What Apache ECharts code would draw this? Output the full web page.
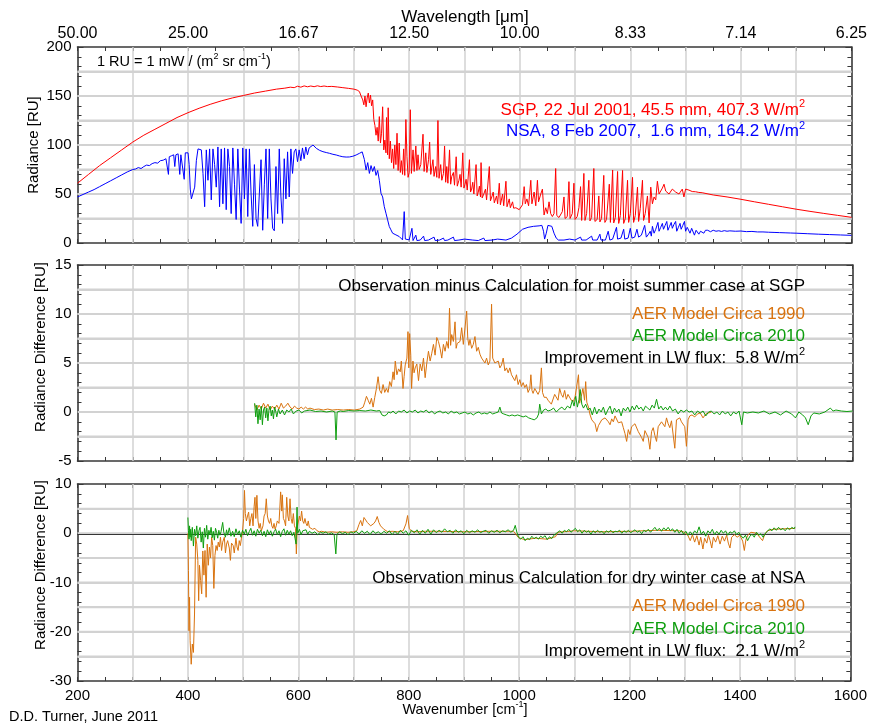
<!DOCTYPE html>
<html><head><meta charset="utf-8">
<script src="https://cdn.jsdelivr.net/npm/echarts/dist/echarts.min.js"></script>
<style>html,body{margin:0;padding:0;background:#fff}#chart{width:870px;height:724px}</style>
</head><body><div id="chart"></div>
<script>
// ---------------- DATA ----------------
// wavenumber [cm-1], radiance [RU]
const sgpRadiance = [[200,61],[220,70],[240,79],[260,87],[280,95],[300,103],[320,110],[340,116],[360,122],[380,128],[400,133],[420,137.5],[440,141.5],[460,145],[480,148],[500,150.5],[520,153],[540,155],[560,157],[575,158],[585,159],[592,158.5],[598,160],[604,159],[610,160.3],[616,159.4],[622,160.2],[628,159.5],[634,160.4],[640,159.6],[646,160.2],[652,159.6],[660,159.8],[670,159.2],[680,158.5],[690,157.8],[700,157],[706,156],[710,154.5],
[713,150],[716,146],[718,141],[720,150],[722,139],[724,148],[726,153],[728,143],[730,151],[732,140],[734,146],[736,126],[738,120],[740,110],[742,118],[744,104],[746,129],[748,102],[750,112],[752,139],[754,95],[756,105],[758,92],[759,128],[761,90],[762,138],[764,86],[766,104],[768,82],[770,96],[772,76],[774,100],[776,80],[778,112],[780,74],[782,102],[784,72],[786,84],[788,70],[790,96],[792,69],[794,126],[796,88],[798,67],
[800,72],[802,136],[804,71],[807,95],[809,73],[812,99],[814,74],[816,90],[818,75],[821,80],[825,111],[827,73],[830,92],[832,72],[835,85],[837,103],[839,70],[843,85],[845,68],[848,78],[850,67],[852,125],[854,66],[857,80],[859,64],[862,71],[864,99],[866,62],[868,78],[870,61],[873,95],[875,60],[877,68],[880,72],[882,59],[885,88],[887,58],[890,64],[892,70],[894,57],[897,92],[899,56],[901,60],[903,65],[905,54],[909,85],[911,52],[913,55],[915,62],[917,50],[921,80],[923,48],[925,52],[927,58],[929,47],[930,82],[932,46],[935,50],[938,55],[940,44],[945,78],[947,43],[950,48],[952,52],[954,41],[958,48],[960,40],[963,61],[965,39],[969,50],[971,38],[975,63],[977,37],[981,45],[983,36],[987,42],[989,35.5],[993,36],[996,34.5],[999,34],
[1002,36],[1005,39],[1008,57.5],[1010,40],[1013,45],[1016,38],[1020,64],[1022,40],[1026,52],[1029,38],[1032,64],[1034,42],[1038,50],[1041,55],[1044,28.6],[1047,36],[1050,30],[1053,42],[1056,30],[1059,27],[1062,30],[1065,76],[1067,28],[1071,26],[1074,27],[1077,32],[1080,47],[1082,25],[1086,27],[1089,62.6],[1091,25],[1095,30],[1098,61],[1100,24],[1104,27],[1107,36],[1110,57.5],[1112,23],[1116,71],[1118,23],[1121,30],[1125,64],[1127,22.5],[1130,26],[1134,76],[1136,22],[1140,24],[1143,48],[1145,21.5],[1148,25],[1152,69],[1154,21],[1157,24],[1162,60],[1164,21],[1168,74.5],[1170,20.5],[1173,26],[1177,73],[1179,20],[1182,28],[1186,74],[1188,20],[1191,25],[1195,64],[1197,21],[1200,30],[1204,67],[1206,21],[1209,28],[1213,57],[1215,22],[1218,35],[1222,64],[1224,23],[1227,30],[1231,48],[1234,20.5],[1237,57],[1240,40],[1243,47],[1246,44],[1249,63],[1252,50],[1255,52],[1258,56],[1261,60],[1264,53],[1267,55],[1270,50],[1273,48],[1276,55],[1279,56],[1282,52],[1285,54],[1288,50],[1291,51],[1294,55],[1297,47],[1300,55],[1306,54],[1312,52.5],[1318,52.3],[1324,51.6],[1330,51.3],[1350,49],[1375,47],[1400,44.6],[1425,42],[1450,39.5],[1475,37],[1500,34.5],[1525,32.3],[1550,30.2],[1575,28.2],[1600,26.2]];

const nsaRadiance = [[200,47],[210,49.5],[220,52],[230,54.5],[240,57.5],[250,60.5],[260,63.5],[270,66.5],[280,69.5],[290,72.5],[300,75],[305,75.5],[310,77],[315,76],[320,78],[325,79.5],[330,79],[335,81],[340,82],[345,81.5],[350,84],[355,84.5],[360,86],[363,87],[364.5,70],[366,88],[370,89],[374,90],[376,78],[378,90],[382,91],[385,70],[387,90],[390,92],[393,65],[395,92],[397,93],[400,92],[402,80],[404,55],[406,45],[409,43],[412,57],[415,84],[418,96],[421,97],[424,95],[427,71],[430,37],[433,95],[436,64],[439,96],[442,44],[445,96],[448,80],[451,57],[454,98],[457,37],[460,96],[463,40],[466,97],[469,34],[472,96],[475,78],[478,30],[481,97],[484,60],[487,24],[490,96],[493,55],[496,20],[499,97],[502,45],[505,96],[508,27],[511,96],[514,50],[517,17],[520,80],[523,25],[526,17],[529,17],[532,85],[535,13],[538,60],[541,96],[544,25],[547,96],[550,45],[553,15],[556,12.5],[559,78],[562,30],[565,96],[568,47],[571,20],[574,86],[577,45],[580,93],[583,47],[586,96],[589,71],[592,93],[595,96],[598,83],[601,95],[604,84],[607,97],[610,86],[613,98],[616,90],[619,97],[622,95],[626,100],[632,96.6],[638,94.5],[644,93.2],[650,92.3],[656,91.5],[662,90.5],[668,89.8],[674,88.8],[680,88],[686,87.7],[692,87.8],[698,88.5],[704,89.8],[710,91.5],[715,93],[719,85],[722,74.5],[725,82],[728,71],[731,79],[734,73],[737,78],[740,69],[743,74],[746,64],[749,50.7],[752,47],[755,37],[758,30.4],[761,23.6],[764,16.8],[767,13.4],[770,10],[773,12],[776,8.3],[779,10],[782,6.6],[785,8],[788,3.2],[791,32],[793,4],[796,3],[800,3.2],[803,2.5],[805,15],[807,2.5],[812,8],[814,2.5],[820,3],[826,7],[828,2.5],[835,3],[845,6],[847,2.5],[855,3],[862,5],[864,2.5],[870,3],[880,6],[882,2.5],[890,3],[900,4],[902,2.5],[915,3],[925,2.5],[935,5],[937,2.5],[950,3],[960,4],[962,2.5],[975,3],[985,5],[995,9],[1005,14],[1015,16],[1025,17],[1035,17.5],[1040,18],[1043,12],[1045,4],[1048,10],[1051,18],[1054,19.5],[1058,17],[1062,10],[1066,5],[1070,3],[1080,3],[1090,4],[1092,2.5],[1100,3],[1110,6],[1112,3],[1120,3],[1130,7],[1132,3],[1140,3],[1145,9],[1147,3],[1155,3],[1160,12],[1163,3],[1168,4],[1175,16],[1177,4],[1183,5],[1188,14],[1190,4],[1196,5],[1200,15],[1203,5],[1208,6],[1212,14],[1215,6],[1220,8],[1226,18],[1229,6],[1233,9],[1236,12],[1238,7],[1240,17],[1243,10],[1246,14],[1250,21],[1252,12],[1255,16],[1258,20],[1260,14],[1263,18],[1266,22],[1268,13],[1271,17],[1274,21],[1276,15],[1279,19],[1282,22],[1284,12],[1287,16],[1290,20],[1292,14],[1295,18],[1298,22],[1300,12],[1303,16],[1306,18],[1308,10],[1311,15],[1314,17],[1316,8],[1319,13],[1322,15],[1324,9],[1327,12],[1330,14],[1333,10],[1336,13],[1340,13],[1345,11.5],[1350,13],[1355,12],[1360,12.5],[1365,11.8],[1370,12.6],[1375,12],[1380,12.4],[1390,12],[1400,12.2],[1410,11.6],[1420,11.8],[1430,11.3],[1440,11.3],[1450,11],[1460,10.8],[1470,10.6],[1480,10.4],[1490,10.2],[1500,10],[1520,9.5],[1540,9],[1560,8.6],[1580,8.2],[1600,7.8]];

// Observation minus calculation, SGP (moist summer) [RU]
const sgpDiff1990 = [[520,0.8],[524,0.2],[528,0.7],[532,0.3],[536,0.9],[540,0.4],[544,0.8],[548,0.2],[552,0.6],[556,0.3],[560,0.7],[564,0.3],[568,0.9],[572,0.4],[576,0.6],[580,0.9],[584,0.5],[588,0.3],[592,0.6],[596,0.4],[600,0.3],[604,0.5],[608,0.3],[612,0.5],[616,0.3],[620,0.4],[628,0.25],[636,0.3],[644,0.2],[652,0.3],[660,0.2],[670,0.25],[680,0.2],[690,0.25],[700,0.2],[710,0.3],[716,0.5],[719,1.0],[722,1.6],[725,1.2],[728,0.8],[731,1.4],[734,0.5],[737,1.5],[740,2.4],[743,3.6],[746,2.2],[749,1.9],[752,2.8],[755,2.0],[758,2.4],[761,2.0],[764,3.1],[767,2.6],[770,4.1],[772,3.3],[774,5.2],[777,3.8],[780,4.4],[783,4.1],[785,5.2],[788,2.4],[790,3.6],[792,4.8],[795,5.5],[797,8.2],[798.5,4.5],[800,8.0],[802,5.8],[803.5,2.4],[806,5.2],[808,4.0],[810,4.5],[813,4.9],[816,3.2],[819,4.9],[822,4.2],[825,5.5],[828,3.5],[831,5.0],[834,6.2],[837,5.2],[840,6.0],[843,6.9],[846,5.8],[849,7.6],[852,7.2],[855,6.5],[858,5.5],[861,6.9],[864,6.2],[867,7.2],[870,6.5],[872,10.6],[874,6.8],[876,7.9],[879,7.2],[882,9.2],[884,6.5],[886,7.0],[888,6.8],[891,7.2],[894,8.6],[897,6.9],[900,7.0],[903,10.3],[905,7.5],[907,6.8],[909,7.4],[912,6.5],[915,6.9],[918,7.7],[921,6.2],[924,6.6],[927,5.9],[930,5.5],[933,5.7],[936,5.0],[939,5.5],[942,4.8],[945,5.2],[948,11.0],[950,5.5],[954,5.0],[957,4.8],[960,5.2],[963,4.5],[966,4.8],[969,5.5],[972,4.2],[975,4.5],[978,4.0],[981,4.5],[984,3.8],[987,4.0],[990,3.2],[993,3.8],[996,2.8],[999,3.3],[1002,2.6],[1005,3.0],[1008,2.5],[1011,2.8],[1014,2.0],[1017,2.4],[1019,3.8],[1021,2.2],[1023,1.9],[1026,2.4],[1029,2.4],[1032,1.8],[1035,2.2],[1038,4.5],[1040,2.0],[1043,1.5],[1047,1.5],[1050,1.2],[1053,1.2],[1056,0.8],[1059,0.6],[1062,1.8],[1065,1.8],[1068,1.2],[1071,2.4],[1074,1.8],[1077,1.5],[1080,2.2],[1083,1.3],[1086,1.8],[1089,1.9],[1092,1.2],[1096,1.1],[1099,1.6],[1102,1.4],[1105,3.8],[1107,0.9],[1110,1.6],[1113,2.4],[1116,1.2],[1118,3.1],[1120,1.0],[1123,0.5],[1126,-0.3],[1129,-0.8],[1132,-0.6],[1135,-1.2],[1138,-2.0],[1141,-1.4],[1144,-1.4],[1147,-0.8],[1150,-1.0],[1153,-0.6],[1156,-0.6],[1159,-1.0],[1162,-1.3],[1165,-0.7],[1168,-1.0],[1171,-0.4],[1174,-0.6],[1177,-1.1],[1180,-1.3],[1183,-1.0],[1186,-1.6],[1189,-2.2],[1192,-3.0],[1195,-1.8],[1198,-2.3],[1201,-1.5],[1204,-1.6],[1207,-1.2],[1210,-1.3],[1213,-2.0],[1216,-2.0],[1219,-2.6],[1222,-3.0],[1225,-1.9],[1228,-2.0],[1231,-2.6],[1234,-3.8],[1237,-2.0],[1240,-1.6],[1243,-2.4],[1246,-3.0],[1249,-1.5],[1252,-1.3],[1255,-1.0],[1258,-0.9],[1261,-1.5],[1264,-0.6],[1267,-1.2],[1270,-1.6],[1273,-0.9],[1276,-0.9],[1279,-3.7],[1282,-0.8],[1285,-0.6],[1288,-0.6],[1291,-1.0],[1294,-1.2],[1297,-1.5],[1300,-3.5],[1303,-0.8],[1306,-0.4],[1310,-0.3],[1315,-0.5],[1320,-0.2],[1325,-0.1],[1330,-0.6],[1335,-0.2],[1340,-0.1],[1345,0.0]];

const sgpDiff2010 = [[520,0.9],[522,-0.5],[524,0.7],[526,-1.2],[528,0.3],[530,-0.8],[532,0.6],[534,-1.3],[536,0.2],[538,0.5],[540,-0.6],[542,0.4],[544,-0.9],[546,0.3],[548,0.6],[550,-0.4],[552,0.2],[554,-0.7],[556,0.5],[558,0.1],[560,-0.5],[563,0.3],[566,-0.2],[570,0.2],[574,-0.3],[578,0.2],[582,0],[586,0.3],[590,-0.2],[595,0.1],[600,0.2],[605,-0.1],[610,0.1],[620,0.2],[630,0.05],[640,0.1],[650,0.0],[660,0.1],[665,0.0],[667,-2.85],[669,0.0],[675,0.1],[680,0.05],[690,0.15],[700,0.1],[710,0.15],[720,0.1],[730,0.2],[740,0.1],[746,0.15],[750,-0.3],[754,-0.4],[758,-0.3],[762,0.0],[766,-0.1],[770,0.1],[775,-0.2],[780,0.1],[785,0.0],[790,0.2],[795,-0.1],[800,0.1],[805,0.0],[810,0.2],[815,-0.1],[820,0.1],[825,0.0],[830,0.2],[835,-0.1],[840,0.1],[845,-0.2],[850,0.0],[855,0.1],[860,-0.1],[865,0.0],[870,-0.2],[875,0.1],[880,-0.1],[885,0.0],[890,-0.2],[895,-0.1],[900,0.0],[905,-0.2],[910,-0.1],[915,-0.3],[920,-0.1],[925,0.0],[930,-0.2],[935,-0.1],[940,-0.2],[945,0.0],[950,-0.2],[955,-0.1],[960,0.0],[963,0.5],[966,-0.1],[970,-0.2],[975,-0.3],[980,-0.4],[985,-0.3],[990,-0.4],[995,-0.3],[1000,-0.4],[1005,-0.5],[1010,-0.4],[1015,-0.6],[1020,-0.7],[1025,-0.8],[1030,-0.6],[1033,-0.2],[1035,0.8],[1038,-0.2],[1042,0.2],[1046,0.3],[1050,0.1],[1055,0.2],[1060,0.4],[1065,0.0],[1070,0.3],[1075,0.5],[1080,0.2],[1085,0.6],[1090,0.4],[1094,1.2],[1097,0.6],[1100,1.6],[1103,0.5],[1106,1.3],[1108,2.3],[1111,0.8],[1114,0.4],[1118,0.8],[1122,0.2],[1126,0.4],[1130,-0.3],[1134,0.5],[1138,-0.2],[1142,0.3],[1146,0.0],[1150,0.5],[1154,-0.3],[1158,0.2],[1162,0.6],[1166,-0.2],[1170,0.4],[1174,0.0],[1178,0.3],[1182,-0.4],[1186,0.4],[1190,0.1],[1194,0.5],[1198,0.0],[1202,0.6],[1206,0.2],[1210,0.7],[1214,0.3],[1218,0.5],[1222,0.1],[1226,0.6],[1230,0.4],[1234,0.2],[1238,0.7],[1242,0.4],[1246,1.3],[1250,0.3],[1254,0.6],[1258,0.2],[1262,0.5],[1266,0.2],[1270,0.6],[1275,0.1],[1280,0.3],[1285,-0.2],[1290,0.2],[1295,0.0],[1300,0.2],[1305,0.0],[1310,0.1],[1315,-0.3],[1320,0.1],[1325,-0.1],[1330,0.1],[1335,-0.4],[1340,0.0],[1345,0.1],[1350,-0.2],[1355,0.0],[1360,-0.3],[1365,0.1],[1370,-0.2],[1375,0.0],[1380,-0.4],[1385,0.0],[1390,-0.2],[1395,0.1],[1400,-1.3],[1403,0.0],[1410,-0.1],[1420,0.0],[1430,-0.1],[1440,0.1],[1450,-0.2],[1460,0.0],[1470,-0.3],[1480,0.1],[1490,-0.2],[1497,-0.6],[1503,0.0],[1510,-0.3],[1515,-0.6],[1520,-1.3],[1525,-0.4],[1530,-0.1],[1540,-0.2],[1550,0.0],[1560,0.4],[1565,0.1],[1570,0.2],[1580,0.1],[1590,0.05],[1600,0.1]];

// Observation minus calculation, NSA (dry winter) [RU]
const nsaDiff1990 = [[400,0],[401,-7.6],[402,-19.8],[403,-13],[404,-21.8],[406,-26.6],[408,-22.5],[410,-24.2],[412,-16.4],[414,-0.8],[416,-2.2],[418,-5.5],[419.5,-13.7],[421,-6.5],[423,-9.6],[425,-12.3],[427,-3.6],[429,-8.5],[431,-3.5],[433,-13],[435,-2.2],[437,-6.5],[439,-2.8],[441,-5],[443,-0.8],[445,-2.5],[447,-11.2],[449,-4.5],[451,-2.5],[453,-3.5],[455,-1.8],[457,-2.8],[459,-0.8],[461,-3.5],[463,-1.8],[466,-0.8],[468,-4.0],[470,-2.2],[472,-1.5],[475,-3.0],[477,-5.5],[479,-2.0],[482,-2.5],[484,-4.0],[487,-1.0],[489,-2.8],[491,-3.5],[493,-1.5],[495,-2.5],[497,-1.0],[499,0.5],[501,3.0],[502.5,8.7],[504,4.0],[506,2.5],[508,3.5],[510,4.3],[512,1.5],[514,3.0],[516,4.0],[518,1.5],[520,5.5],[521.5,7.3],[523,3.0],[525,7.7],[527,2.5],[529,1.0],[531,2.0],[533,0.5],[536,1.5],[538,3.5],[540,4.0],[542,7.0],[544,3.5],[546,2.5],[548,2.0],[550,3.0],[552,1.5],[554,1.0],[556,2.0],[558,0.8],[560,1.5],[562,2.5],[565,2.0],[566.5,5.0],[568,8.4],[570,4.5],[571,7.8],[573,3.0],[575,2.5],[577,1.5],[579,7.3],[581,3.5],[583,2.5],[585,7.0],[587,3.0],[589,2.0],[591,4.0],[593,1.5],[595,1.0],[596.5,-4.2],[598,1.0],[600,0.8],[602,3.5],[604,2.5],[606,4.5],[608,2.5],[610,2.0],[612,3.0],[614,2.0],[616,1.5],[618,2.5],[620,1.2],[623,1.5],[626,0.8],[630,1.0],[634,0.5],[638,0.3],[642,0.4],[650,0.2],[660,0.3],[670,0.2],[680,0.3],[690,0.2],[700,0.3],[706,0.5],[710,1.8],[713,2.6],[716,1.5],[719,3.2],[722,3.6],[725,2.2],[728,2.5],[731,1.5],[734,1.2],[737,2.0],[740,2.5],[743,3.4],[746,2.2],[749,1.5],[752,1.2],[755,0.8],[758,0.5],[762,0.3],[770,0.4],[780,0.3],[790,0.5],[795,1.9],[798,3.6],[801,1.0],[805,0.4],[815,0.3],[830,0.4],[850,0.4],[900,0.3],[950,0.4],[990,0.4],[999,-0.9],[1010,-1.3],[1030,-1.0],[1050,-1.2],[1066,-0.7],[1070,0.2],[1100,0.5],[1150,0.3],[1200,0.4],[1250,0.6],[1290,0.5],[1300,0.2],[1306,-0.5],[1310,-1.5],[1314,-0.3],[1318,-1.8],[1322,-0.5],[1326,-2.4],[1329,-0.8],[1333,-3.2],[1336,-1.0],[1340,-2.0],[1343,-0.4],[1346,-1.5],[1349,-3.0],[1352,-0.8],[1356,-1.8],[1360,-0.5],[1364,-2.2],[1368,-0.6],[1372,-1.6],[1376,-0.4],[1379,-2.0],[1382,-3.0],[1385,-0.8],[1390,-0.3],[1395,-0.8],[1400,-0.4],[1405,-1.6],[1408,-3.5],[1411,-1.2],[1415,-0.3],[1420,0.2],[1430,0.0],[1441,-1.5],[1445,-0.2],[1450,0.5],[1460,0.8],[1480,0.9],[1500,1.0]];

const nsaDiff2010 = [[400,3.2],[401,0.5],[402,-1.2],[403,1.5],[404,-0.8],[405,0.8],[406,-1.5],[408,1.2],[410,-2.6],[412,0.8],[414,-0.5],[416,1.5],[418,-1.0],[420,0.5],[422,1.2],[424,-1.8],[426,0.3],[428,-3.0],[430,1.0],[432,-0.8],[434,1.6],[436,-1.2],[438,0.6],[440,-0.3],[442,1.2],[444,-0.9],[446,0.4],[448,-1.4],[450,1.0],[452,0.2],[454,-1.0],[456,0.6],[458,-0.4],[460,0.3],[463,2.2],[465,0.2],[468,-0.8],[470,0.7],[472,-0.4],[475,1.1],[478,-0.6],[481,0.4],[484,-0.7],[487,0.9],[490,-0.3],[493,0.5],[496,-0.8],[499,0.6],[502,-0.2],[505,0.8],[508,-0.5],[511,0.3],[514,1.0],[517,-0.4],[520,0.5],[523,-0.6],[526,0.8],[529,0.0],[532,0.6],[535,-0.5],[538,0.4],[541,-0.7],[544,0.7],[547,-0.2],[550,0.5],[553,-0.6],[556,0.3],[559,0.8],[562,-0.3],[565,0.5],[568,-0.7],[571,0.4],[574,0.9],[577,-0.4],[580,0.6],[583,-0.2],[586,0.5],[589,-0.5],[592,0.2],[594,-1.0],[596,-2.2],[597.7,5.3],[599,0.0],[602,0.8],[605,-0.3],[608,0.5],[611,0.2],[614,0.7],[617,-0.2],[620,0.4],[625,0.0],[630,0.3],[635,-0.3],[640,0.2],[645,0.0],[650,0.3],[655,-0.2],[660,0.1],[665,-0.3],[668,-4.2],[670,-0.2],[675,0.3],[680,-0.1],[685,0.2],[690,-0.3],[695,0.3],[700,0.0],[705,0.4],[710,-0.2],[715,0.5],[720,0.0],[725,0.4],[730,-0.3],[735,0.5],[740,0.0],[745,0.3],[750,-0.2],[755,0.4],[760,0.0],[765,0.5],[770,-0.3],[775,0.4],[780,-0.2],[785,0.6],[790,0.0],[795,0.5],[800,-0.4],[805,0.6],[810,0.1],[815,0.7],[820,-0.2],[825,0.6],[830,0.0],[835,0.8],[840,-0.2],[845,0.7],[850,0.1],[855,0.6],[860,0.2],[865,0.9],[870,0.3],[875,0.6],[880,0.0],[885,0.7],[890,0.2],[895,0.5],[900,-0.1],[905,0.6],[910,0.1],[915,0.5],[920,0.2],[925,0.7],[930,0.1],[935,0.4],[940,0.6],[945,0.0],[950,0.5],[955,0.2],[960,0.6],[965,0.1],[970,0.5],[975,0.3],[980,0.7],[985,0.2],[990,0.6],[993,1.6],[996,0.2],[999,-0.8],[1003,-1.2],[1007,-0.7],[1011,-1.5],[1015,-1.0],[1019,-1.3],[1023,-0.6],[1027,-1.1],[1031,-0.8],[1035,-1.2],[1039,-0.6],[1043,-0.9],[1047,-0.5],[1051,-1.3],[1055,-0.7],[1059,-1.1],[1063,-0.4],[1066,-0.6],[1070,0.2],[1074,0.5],[1078,0.0],[1082,0.6],[1086,0.3],[1090,0.8],[1094,0.2],[1098,0.6],[1102,1.0],[1106,0.3],[1110,0.7],[1114,0.0],[1118,0.6],[1122,0.2],[1126,0.5],[1130,-0.2],[1134,0.5],[1138,0.1],[1142,0.6],[1146,0.2],[1150,0.4],[1154,-0.1],[1158,0.5],[1162,0.2],[1166,0.6],[1170,0.1],[1174,0.4],[1178,0.3],[1182,0.6],[1186,0.0],[1190,0.5],[1194,0.2],[1198,0.6],[1202,0.1],[1206,0.4],[1210,0.7],[1214,0.2],[1218,0.5],[1222,-0.1],[1226,0.6],[1230,0.3],[1234,0.8],[1238,0.2],[1242,0.7],[1246,1.2],[1250,0.5],[1254,1.0],[1258,0.4],[1262,1.1],[1266,0.6],[1270,1.2],[1274,0.5],[1278,0.9],[1282,0.2],[1286,0.8],[1290,0.0],[1294,0.6],[1298,-0.2],[1302,0.4],[1306,-0.4],[1310,0.3],[1314,-0.3],[1318,0.5],[1322,0.0],[1326,1.3],[1330,-0.2],[1334,0.4],[1338,-0.6],[1342,0.5],[1346,0.0],[1350,0.8],[1354,-0.3],[1358,0.4],[1362,-0.2],[1366,0.6],[1370,0.0],[1374,0.5],[1378,-0.4],[1382,0.3],[1386,0.0],[1390,0.5],[1394,-0.3],[1398,0.2],[1402,-0.5],[1406,-1.0],[1410,-0.4],[1414,-1.5],[1418,-0.6],[1422,-0.2],[1426,-0.8],[1430,0.2],[1434,-0.4],[1438,-0.1],[1442,-0.8],[1446,0.0],[1450,0.4],[1454,0.9],[1458,0.5],[1462,1.1],[1466,0.6],[1470,1.2],[1474,0.7],[1478,1.0],[1482,0.5],[1486,1.1],[1490,0.7],[1494,1.2],[1498,0.9],[1500,1.3]];

// tick labels of the top (wavelength) axis, at wavenumbers 200, 400, ... 1600
const wavelengthTicks = ['50.00','25.00','16.67','12.50','10.00','8.33','7.14','6.25'];

// ---------------- LAYOUT / STYLE ----------------
const FONT = "'Liberation Sans', Arial, Helvetica, sans-serif";
const AXIS_COLOR = '#383838';
const GRID_COLOR = '#d2d2d2';
const RED = '#ff0000', BLUE = '#0000ff', ORANGE = '#d9730f', GREEN = '#0e9e0e';
const TICK_FS = 15;
const X_MIN = 200, X_MAX = 1600, X_GRID = 100;

const panels = [
  {top: 47, height: 196, min: 0, max: 200, step: 50, gridStep: 25},
  {top: 265, height: 196, min: -5, max: 15, step: 5, gridStep: 2.5},
  {top: 484, height: 197, min: -30, max: 10, step: 10, gridStep: 5}
];

const grids = panels.map(p => ({left: 77.5, right: 17.5, top: p.top, height: p.height}));
const xAxes = [], yAxes = [];
panels.forEach((p, i) => {
  const xc = {
    gridIndex: i, type: 'value', min: X_MIN, max: X_MAX, interval: X_GRID,
    axisLine: {show: true, onZero: false, lineStyle: {color: AXIS_COLOR, width: 1.6}},
    axisTick: {show: true, inside: true, length: 4, lineStyle: {color: AXIS_COLOR, width: 1}},
    minorTick: {show: true, splitNumber: 2, length: 4, lineStyle: {color: AXIS_COLOR, width: 1}},
    splitLine: {show: false}
  };
  xAxes.push(Object.assign({}, xc, {
    position: 'bottom',
    axisLabel: {show: i === 2, margin: 7, color: '#000', fontSize: TICK_FS, fontFamily: FONT,
      formatter: v => (v % 200 === 0 ? String(v) : '')}
  }));
  xAxes.push(Object.assign({}, xc, {
    position: 'top',
    axisLabel: {show: i === 0, margin: 5, color: '#000', fontSize: 16, fontFamily: FONT,
      formatter: v => (v % 200 === 0 ? wavelengthTicks[(v - 200) / 200] : '')}
  }));
  const yc = {
    gridIndex: i, type: 'value', min: p.min, max: p.max, interval: p.step,
    axisLine: {show: true, onZero: false, lineStyle: {color: AXIS_COLOR, width: 1.6}},
    axisTick: {show: true, inside: true, length: 6, lineStyle: {color: AXIS_COLOR, width: 1}},
    minorTick: {show: true, splitNumber: 5, length: 4, lineStyle: {color: AXIS_COLOR, width: 1}},
    splitLine: {show: false}
  };
  yAxes.push(Object.assign({}, yc, {position: 'left',
    axisLabel: {show: true, margin: 6, color: '#000', fontSize: TICK_FS, fontFamily: FONT}}));
  yAxes.push(Object.assign({}, yc, {position: 'right', axisLabel: {show: false}}));
});

// light grid lines at the grid-step values of each panel's axes
function hGridValues(p) {
  const vals = [];
  for (let k = 1; p.min + k * p.gridStep < p.max; k++) vals.push(p.min + k * p.gridStep);
  return vals;
}
const gridSeries = [];
panels.forEach((p, i) => {
  const lines = [];
  for (let v = X_MIN + X_GRID; v < X_MAX; v += X_GRID) lines.push({xAxis: v});
  gridSeries.push({
    type: 'line', xAxisIndex: i * 2, yAxisIndex: i * 2, data: [[X_MIN, p.min], [X_MAX, p.max]],
    showSymbol: false, symbol: 'none', silent: true, animation: false, z: 1,
    lineStyle: {opacity: 0, width: 0},
    markLine: {silent: true, symbol: 'none', animation: false, z: 1, label: {show: false},
      emphasis: {disabled: true},
      lineStyle: {color: GRID_COLOR, width: 1.5, type: 'solid', opacity: 1}, data: lines}
  });
  hGridValues(p).forEach(v => {
    gridSeries.push({
      type: 'line', xAxisIndex: i * 2, yAxisIndex: i * 2, data: [[X_MIN, v], [X_MAX, v]],
      showSymbol: false, symbol: 'none', silent: true, animation: false, z: 1,
      lineStyle: {color: GRID_COLOR, width: 2, type: 'solid'}
    });
  });
});

// horizontal reference lines attached to a data series of each panel (zero line in black)
function refLines(p, withZero) {
  const items = hGridValues(p).filter(v => v !== 0).map(v => ({
    yAxis: v, lineStyle: {color: GRID_COLOR, width: 2, type: 'solid'}
  }));
  if (withZero) items.push({yAxis: 0, lineStyle: {color: '#000', width: 2, type: 'solid'}});
  return {
    silent: true, symbol: 'none', animation: false, label: {show: false}, z: 1,
    emphasis: {disabled: true},
    lineStyle: {color: GRID_COLOR, width: 2, type: 'solid'}, data: items
  };
}

function lineSeries(name, data, color, panel, extra) {
  return Object.assign({
    name, type: 'line', data, xAxisIndex: panel * 2, yAxisIndex: panel * 2,
    showSymbol: false, symbol: 'none', clip: true, animation: false, silent: true,
    lineStyle: {color, width: 1}, z: 2
  }, extra || {});
}

const series = gridSeries.concat([
  lineSeries('SGP radiance', sgpRadiance, RED, 0, {markLine: refLines(panels[0], false)}),
  lineSeries('NSA radiance', nsaRadiance, BLUE, 0),
  lineSeries('SGP AER 1990', sgpDiff1990, ORANGE, 1, {markLine: refLines(panels[1], true)}),
  lineSeries('SGP AER 2010', sgpDiff2010, GREEN, 1),
  lineSeries('NSA AER 1990', nsaDiff1990, ORANGE, 2, {markLine: refLines(panels[2], true)}),
  lineSeries('NSA AER 2010', nsaDiff2010, GREEN, 2)
]);

// ---------------- TEXT ----------------
function richDef(fs, sfs) {
  return {
    n: {fontSize: fs, fontFamily: FONT, lineHeight: fs + 6},
    s: {fontSize: sfs, fontFamily: FONT, lineHeight: sfs, verticalAlign: 'top'}
  };
}
function txt(x, y, text, opt) {
  opt = opt || {};
  const fs = opt.fs || 17;
  const align = opt.align || 'right';
  return {
    type: 'text', x, y, rotation: opt.rot || 0, silent: true, z: 10,
    style: {
      text, rich: richDef(fs, opt.sfs || Math.round(fs * 0.62)),
      fill: opt.color || '#000', fontSize: fs, fontFamily: FONT,
      align, verticalAlign: 'middle', textAlign: align, textVerticalAlign: 'middle'
    }
  };
}
const R = 805;
const graphics = [
  txt(465, 17, '{n|Wavelength [μm]}', {align: 'center', fs: 17}),
  txt(97, 62, '{n|1 RU = 1 mW / (m}{s|2}{n| sr cm}{s|-1}{n|)}', {align: 'left', fs: 14.5, sfs: 9}),
  txt(R, 110, '{n|SGP, 22 Jul 2001, 45.5 mm, 407.3 W/m}{s|2}', {color: RED}),
  txt(R, 131.5, '{n|NSA, 8 Feb 2007,  1.6 mm, 164.2 W/m}{s|2}', {color: BLUE}),
  txt(R, 286, '{n|Observation minus Calculation for moist summer case at SGP}'),
  txt(R, 314.5, '{n|AER Model Circa 1990}', {color: ORANGE}),
  txt(R, 336.5, '{n|AER Model Circa 2010}', {color: GREEN}),
  txt(R, 358, '{n|Improvement in LW flux:  5.8 W/m}{s|2}'),
  txt(R, 578.5, '{n|Observation minus Calculation for dry winter case at NSA}'),
  txt(R, 606.5, '{n|AER Model Circa 1990}', {color: ORANGE}),
  txt(R, 629, '{n|AER Model Circa 2010}', {color: GREEN}),
  txt(R, 651, '{n|Improvement in LW flux:  2.1 W/m}{s|2}'),
  txt(34, 145, '{n|Radiance [RU]}', {align: 'center', fs: 15, rot: Math.PI / 2}),
  txt(41, 347, '{n|Radiance Difference [RU]}', {align: 'center', fs: 15, rot: Math.PI / 2}),
  txt(41, 565, '{n|Radiance Difference [RU]}', {align: 'center', fs: 15, rot: Math.PI / 2}),
  txt(465, 710, '{n|Wavenumber [cm}{s|-1}{n|]}', {align: 'center', fs: 14.5, sfs: 9}),
  txt(9, 716.5, '{n|D.D. Turner, June 2011}', {align: 'left', fs: 14.5})
];

const chart = echarts.init(document.getElementById('chart'), null, {renderer: 'canvas'});
chart.setOption({
  animation: false,
  backgroundColor: '#ffffff',
  textStyle: {fontFamily: FONT},
  grid: grids,
  xAxis: xAxes,
  yAxis: yAxes,
  series,
  graphic: graphics
});
</script></body></html>
